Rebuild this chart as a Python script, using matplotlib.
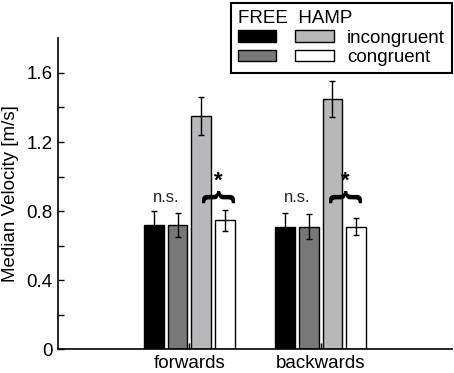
import numpy as np
import matplotlib
matplotlib.use('Agg')
import matplotlib.pyplot as plt
from matplotlib.patches import Patch

plt.rcParams['font.family'] = ['Liberation Sans', 'DejaVu Sans']

# data
groups = ['forwards', 'backwards']
free_incong = [0.72, 0.71]
free_cong = [0.72, 0.71]
hamp_incong = [1.35, 1.45]
hamp_cong = [0.745, 0.71]
err_free_incong = [0.08, 0.08]
err_free_cong = [0.07, 0.07]
err_hamp_incong = [0.11, 0.105]
err_hamp_cong = [0.06, 0.05]
colors = ['#000000', '#787878', '#b8b8bb', '#ffffff']
legend_labels = ['', '', 'incongruent', 'congruent']

values = [free_incong, free_cong, hamp_incong, hamp_cong]
errors = [err_free_incong, err_free_cong, err_hamp_incong, err_hamp_cong]

fig = plt.figure(figsize=(4.54, 3.73), dpi=100)
ax = fig.add_axes([0.1278, 0.0643, 0.8678, 0.8325])

x = np.arange(1, len(groups) + 1)
step = 0.18
width = 0.15
for i in range(4):
    pos = x + (i - 1.5) * step
    ax.bar(pos, values[i], width, color=colors[i], edgecolor='black', linewidth=1.0)
    ax.errorbar(pos, values[i], yerr=errors[i], fmt='none', ecolor='black',
                elinewidth=1.0, capsize=2, capthick=1.0)

# significance marks
brace_offset = [0.222, 0.19]
for k in range(len(groups)):
    ax.text(x[k] - step, 0.88, 'n.s.', ha='center', va='center', fontsize=12,
            color='#222222')
    ax.text(x[k] + brace_offset[k], 0.885, '}', rotation=90, ha='center', va='center',
            fontsize=25, fontweight='bold')
    ax.text(x[k] + brace_offset[k], 0.975, '*', ha='center', va='center', fontsize=16,
            fontweight='bold')

ax.set_xlim(0, 3)
ax.set_ylim(0, 1.8)
ax.set_xticks(x)
ax.set_xticklabels(groups, fontsize=13.5)
ax.set_yticks([0, 0.4, 0.8, 1.2, 1.6])
ax.set_yticklabels(['0', '0.4', '0.8', '1.2', '1.6'], fontsize=13.5)
ax.set_yticks(np.arange(0.2, 1.8, 0.4), minor=True)
ax.tick_params(axis='both', direction='in', length=4, width=1, pad=4)
ax.tick_params(axis='y', which='minor', direction='in', length=4, width=1)
ax.spines['top'].set_visible(False)
ax.spines['right'].set_visible(False)
ax.spines['left'].set_linewidth(1.2)
ax.spines['bottom'].set_linewidth(1.2)
ax.set_ylabel('Median Velocity [m/s]', fontsize=13.5, labelpad=5)

handles = [Patch(facecolor=c, edgecolor='black', linewidth=1.0) for c in colors]
leg = fig.legend(handles, legend_labels, ncol=2,
                 title='FREE  HAMP', title_fontsize=13.5, fontsize=13.5,
                 loc='upper right', bbox_to_anchor=(0.996, 0.992), borderaxespad=0,
                 fancybox=False, edgecolor='black', framealpha=1,
                 handlelength=2.05, handleheight=0.55, handletextpad=0.7,
                 columnspacing=0.3, labelspacing=0.12, borderpad=0.4)
leg._legend_box.align = 'left'
leg.get_frame().set_linewidth(1.5)

fig.savefig('out.png', dpi=100)
